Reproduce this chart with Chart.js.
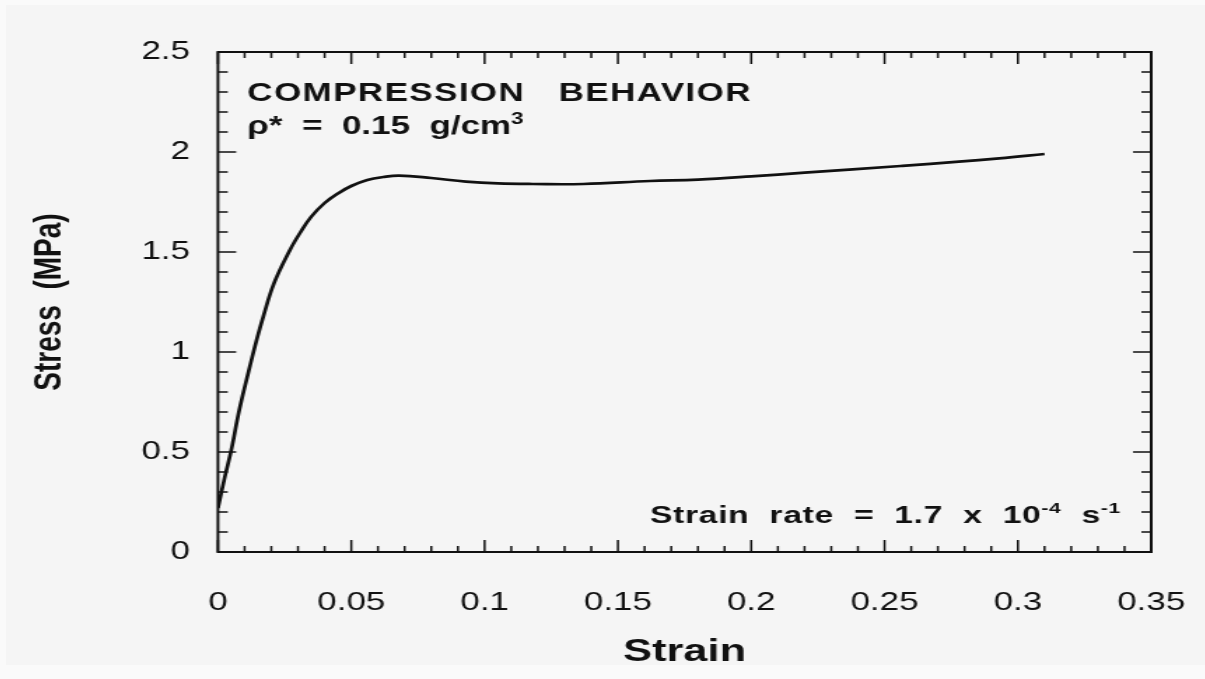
<!DOCTYPE html>
<html>
<head>
<meta charset="utf-8">
<script src="https://cdn.jsdelivr.net/npm/chart.js@4/dist/chart.umd.min.js"></script>
<style>
  html, body { margin: 0; padding: 0; background: #fafafa; }
  #frame {
    position: absolute; left: 6px; top: 5px;
    width: 1199px; height: 660px;
    background: #f5f5f5; overflow: hidden;
  }
  /* the original scan is stretched sideways, so the canvas is too */
  #chart { transform: scaleX(1.4); transform-origin: 0 0; }
</style>
</head>
<body>
<div id="frame"><canvas id="chart" width="856" height="660"></canvas></div>
<script>
// strain / stress
const strain = [0, 0.0026, 0.005, 0.008, 0.012, 0.0145, 0.017, 0.021, 0.027, 0.031,
                0.035, 0.04, 0.045, 0.05, 0.056, 0.062, 0.068, 0.08, 0.093, 0.105,
                0.118, 0.137, 0.162, 0.18, 0.2, 0.22, 0.256, 0.293, 0.31];
const stress = [0.22, 0.377, 0.51, 0.71, 0.93, 1.06, 1.177, 1.343, 1.51, 1.6,
                1.677, 1.745, 1.793, 1.83, 1.86, 1.875, 1.882, 1.87, 1.852, 1.843,
                1.84, 1.84, 1.855, 1.862, 1.878, 1.897, 1.93, 1.968, 1.99];

const xTicks = [0, 0.05, 0.1, 0.15, 0.2, 0.25, 0.3, 0.35];
const xTickLabels = ['0', '0.05', '0.1', '0.15', '0.2', '0.25', '0.3', '0.35'];
const yTicks = [0, 0.5, 1, 1.5, 2, 2.5];
const yTickLabels = ['0', '0.5', '1', '1.5', '2', '2.5'];

const ink = '#111';
const sans = '"Liberation Sans", Arial, Helvetica, sans-serif';

// text runs: [text, superscript?]
const headLine1 = [['COMPRESSION   BEHAVIOR', false]];
const headLine2 = [['ρ*  =  0.15  g/cm', false], ['3', true]];
const rateLine = [['Strain  rate  =  1.7  x  10', false], ['-4', true], ['  s', false], ['-1', true]];

function drawRuns(ctx, runs, x, y, size, spacing) {
  ctx.letterSpacing = spacing + 'px';
  for (const [t, sup] of runs) {
    ctx.font = 'bold ' + (sup ? Math.round(size * 0.62) : size) + 'px ' + sans;
    ctx.fillText(t, x, sup ? y - size * 0.42 : y);
    x += ctx.measureText(t).width;
  }
  ctx.letterSpacing = '0px';
}

const axesPlugin = {
  id: 'axesFrame',
  afterDatasetsDraw(chart) {
    const {ctx, chartArea: a, scales: {x, y}} = chart;
    ctx.save();
    ctx.strokeStyle = ink;
    ctx.lineWidth = 2;
    ctx.strokeRect(a.left, a.top, a.right - a.left, a.bottom - a.top);

    // inward ticks on all four sides
    ctx.lineWidth = 1.5;
    ctx.beginPath();
    for (let i = 0; i <= 35; i++) {
      const px = x.getPixelForValue(i / 100);
      const len = i % 5 === 0 ? 12 : 6;
      ctx.moveTo(px, a.bottom); ctx.lineTo(px, a.bottom - len);
      ctx.moveTo(px, a.top); ctx.lineTo(px, a.top + len);
    }
    for (let i = 0; i <= 25; i++) {
      const py = y.getPixelForValue(i / 10);
      const len = i % 5 === 0 ? 13 : 7;
      ctx.moveTo(a.left, py); ctx.lineTo(a.left + len, py);
      ctx.moveTo(a.right, py); ctx.lineTo(a.right - len, py);
    }
    ctx.stroke();

    // annotations
    ctx.fillStyle = ink;
    ctx.textBaseline = 'alphabetic';
    ctx.textAlign = 'left';
    drawRuns(ctx, headLine1, x.getPixelForValue(0.011), y.getPixelForValue(2.257), 25, 1);
    drawRuns(ctx, headLine2, x.getPixelForValue(0.011), y.getPixelForValue(2.09), 25, 0);
    drawRuns(ctx, rateLine, x.getPixelForValue(0.162), y.getPixelForValue(0.145), 24, 0.5);
    ctx.restore();
  }
};

// fixed axis boxes, no label overflow padding
function fixBox(size) {
  return s => {
    if (s.isHorizontal()) s.height = size; else s.width = size;
    s.paddingLeft = s.paddingRight = s.paddingTop = s.paddingBottom = 0;
  };
}

new Chart(document.getElementById('chart'), {
  type: 'line',
  data: {
    datasets: [{
      data: strain.map((v, i) => ({x: v, y: stress[i]})),
      borderColor: ink,
      borderWidth: 2.7,
      pointRadius: 0,
      fill: false,
      tension: 0.4
    }]
  },
  options: {
    responsive: false,
    animation: false,
    layout: {autoPadding: false, padding: {top: 47, right: 38, bottom: 0, left: 0}},
    plugins: {legend: {display: false}, tooltip: {enabled: false}},
    scales: {
      x: {
        type: 'linear', min: 0, max: 0.35,
        grid: {display: false, drawTicks: false},
        border: {display: false},
        afterBuildTicks: s => { s.ticks = xTicks.map(v => ({value: v})); },
        afterFit: fixBox(113),
        ticks: {
          color: ink, padding: 36, maxRotation: 0, autoSkip: false,
          font: {family: sans, size: 25},
          callback: (v, i) => xTickLabels[i]
        },
        title: {
          display: true, text: 'Strain', color: ink,
          font: {family: sans, size: 31, weight: 'bold'},
          padding: {top: 0, bottom: -6}
        }
      },
      y: {
        type: 'linear', min: 0, max: 2.5,
        grid: {display: false, drawTicks: false},
        border: {display: false},
        afterBuildTicks: s => { s.ticks = yTicks.map(v => ({value: v})); },
        afterFit: fixBox(151.4),
        ticks: {
          color: ink, padding: 20,
          font: {family: sans, size: 25},
          callback: (v, i) => yTickLabels[i]
        },
        title: {
          display: true, text: 'Stress  (MPa)', color: ink,
          font: {family: sans, size: 28, weight: 'bold'},
          padding: {top: 14.6, bottom: 0}
        }
      }
    }
  },
  plugins: [axesPlugin]
});
</script>
</body>
</html>
